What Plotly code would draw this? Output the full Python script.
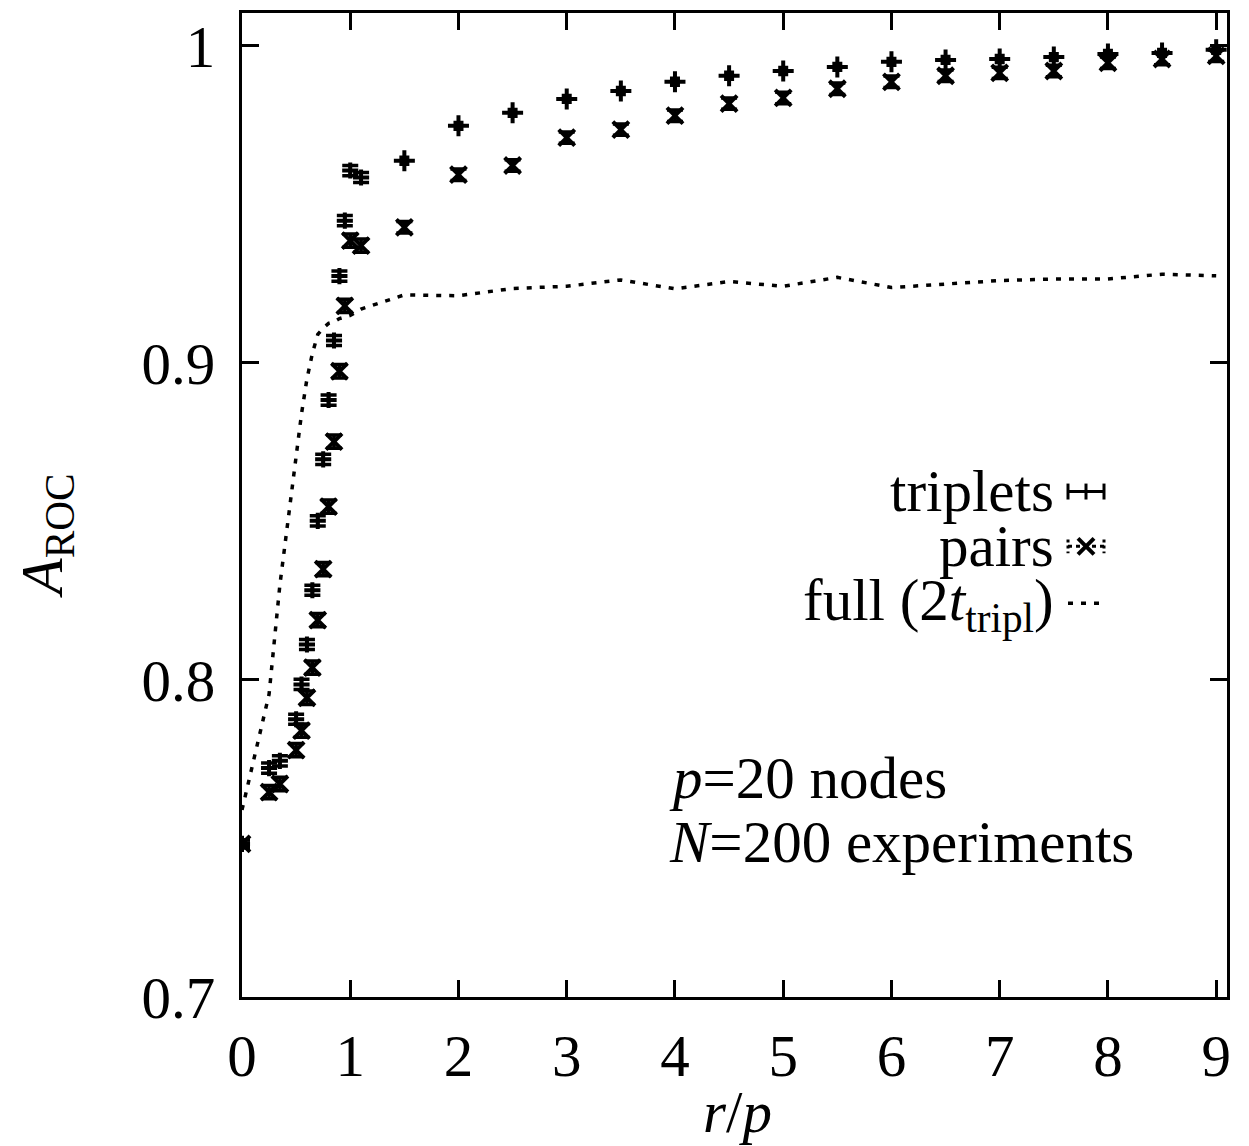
import plotly.graph_objects as go

# ---------------- data ----------------
r_over_p = [0, 0.25, 0.35, 0.5, 0.55, 0.6, 0.65, 0.7, 0.75, 0.8, 0.85, 0.9, 0.95, 1.0, 1.1,
            1.5, 2, 2.5, 3, 3.5, 4, 4.5, 5, 5.5, 6, 6.5, 7, 7.5, 8, 8.5, 9]

triplets = [0.7483, 0.7722, 0.7745, 0.7876, 0.7986, 0.8112, 0.8283, 0.8502, 0.8696, 0.8883,
            0.9071, 0.9274, 0.9449, 0.9607, 0.9585,
            0.9638, 0.9748, 0.9789, 0.9833, 0.9858, 0.9887, 0.9906, 0.9921, 0.9934, 0.9950,
            0.9956, 0.9959, 0.9965, 0.9975, 0.9978, 0.9988]
triplets_err = [0.0012, 0.0016, 0.0016, 0.0016, 0.0016, 0.0016, 0.0016, 0.0016, 0.0016, 0.0016,
                0.0016, 0.0016, 0.0016, 0.0016, 0.0016,
                0.0010, 0.0010, 0.0010, 0.0010, 0.0010, 0.0010, 0.0010, 0.0010, 0.0010, 0.0010,
                0.0010, 0.0010, 0.0010, 0.0010, 0.0010, 0.0010]

pairs = [0.7483, 0.7646, 0.7672, 0.7779, 0.7840, 0.7944, 0.8039, 0.8189, 0.8350, 0.8547,
         0.8752, 0.8974, 0.9180, 0.9386, 0.9370,
         0.9428, 0.9594, 0.9623, 0.9711, 0.9736, 0.9780, 0.9818, 0.9836, 0.9865, 0.9887,
         0.9906, 0.9915, 0.9921, 0.9947, 0.9959, 0.9969]
pairs_err = [0.0012, 0.0021, 0.0021, 0.0021, 0.0021, 0.0021, 0.0021, 0.0021, 0.0021, 0.0021,
             0.0021, 0.0021, 0.0021, 0.0021, 0.0021,
             0.0018, 0.0018, 0.0018, 0.0018, 0.0018, 0.0018, 0.0018, 0.0018, 0.0018, 0.0018,
             0.0018, 0.0018, 0.0018, 0.0018, 0.0018, 0.0018]

full = [0.7590, 0.7955, 0.8300, 0.8700, 0.8840, 0.8950, 0.9030, 0.9090, 0.9110, 0.9125,
        0.9130, 0.9140, 0.9145, 0.9150, 0.9170,
        0.9215, 0.9212, 0.9235, 0.9242, 0.9262, 0.9234, 0.9257, 0.9242, 0.9270, 0.9238,
        0.9250, 0.9260, 0.9265, 0.9265, 0.9280, 0.9275]

x_ticks = [0, 1, 2, 3, 4, 5, 6, 7, 8, 9]
y_ticks = [0.7, 0.8, 0.9, 1.0]
y_tick_text = ["0.7", "0.8", "0.9", "1"]

# ---------------- layout geometry ----------------
W, H = 1249, 1146
L, R, T, B = 242, 1227, 10, 997   # plot frame in pixels
FONT = "Liberation Serif"
FS = 59
SPLIT = 15  # index where the sparse (r/p >= 1.5) part of the data begins


def px(xp):
    return (xp - L) / (R - L)


def py(yp):
    return (B - yp) / (B - T)


fig = go.Figure()

fig.add_trace(go.Scatter(
    x=r_over_p, y=full, mode="lines", name="full",
    line=dict(color="black", width=3.5, dash="5px,8px"),
    showlegend=False,
))

# pairs
fig.add_trace(go.Scatter(
    x=r_over_p, y=pairs, mode="markers", name="pairs",
    marker=dict(symbol="x-thin", size=16, color="black", line=dict(color="black", width=4)),
    error_y=dict(type="data", array=pairs_err, visible=True, color="black", thickness=3.5, width=8),
    showlegend=False,
))

# triplets: dense part and sparse part (different marker look in the reference)
fig.add_trace(go.Scatter(
    x=r_over_p[:SPLIT], y=triplets[:SPLIT], mode="markers", name="triplets",
    marker=dict(symbol="cross-thin", size=11.5, color="black", line=dict(color="black", width=4)),
    error_y=dict(type="data", array=triplets_err[:SPLIT], visible=True, color="black",
                 thickness=3.5, width=8),
    showlegend=False,
))
fig.add_trace(go.Scatter(
    x=r_over_p[SPLIT:], y=triplets[SPLIT:], mode="markers", name="triplets",
    marker=dict(symbol="cross-thin", size=15, color="black", line=dict(color="black", width=4)),
    error_y=dict(type="data", array=triplets_err[SPLIT:], visible=True, color="black",
                 thickness=4, width=5),
    showlegend=False,
))

axis_common = dict(
    showline=True, linecolor="black", linewidth=3, mirror="ticks",
    ticks="inside", ticklen=17, tickwidth=2.5, tickcolor="black",
    showgrid=False, zeroline=False,
    tickfont=dict(family=FONT, size=FS, color="black"),
)

fig.update_layout(
    width=W, height=H,
    margin=dict(l=L, r=W - R, t=T, b=H - B, pad=0),
    paper_bgcolor="white", plot_bgcolor="white",
    font=dict(family=FONT, size=FS, color="black"),
    xaxis=dict(range=[0, 9.1], tickvals=x_ticks, ticklabelstandoff=5, **axis_common),
    yaxis=dict(range=[0.7, 1.0104], tickvals=y_ticks, ticktext=y_tick_text,
               ticklabelstandoff=12, **axis_common),
)

annotations = [
    # axis titles
    dict(x=px(46), y=py(535), text="<i>A</i><sub>ROC</sub>", textangle=-90,
         xanchor="center", yanchor="middle"),
    dict(x=px(737), y=py(1112), text="<i>r</i>/<i>p</i>", xanchor="center", yanchor="middle"),
    # legend texts
    dict(x=px(1056), y=py(489), text="triplets", xanchor="right", yanchor="middle"),
    dict(x=px(1056), y=py(545), text="pairs", xanchor="right", yanchor="middle"),
    dict(x=px(1056), y=py(603), text="full (2<i>t</i><sub>tripl</sub>)", xanchor="right", yanchor="middle"),
    # info text
    dict(x=px(667), y=py(777), text="<i>p</i>=20 nodes", xanchor="left", yanchor="middle"),
    dict(x=px(667), y=py(842), text="<i>N</i>=200 experiments", xanchor="left", yanchor="middle"),
]
for a in annotations:
    a.update(xref="paper", yref="paper", showarrow=False,
             font=dict(family=FONT, size=FS, color="black"))
fig.update_layout(annotations=annotations)

# legend samples (paper coordinates)
shapes = []
sx0, sx1 = 1068, 1104
# triplets sample: horizontal bar with caps and a centre tick
ty = 490
shapes += [
    dict(type="line", x0=px(sx0), x1=px(sx1), y0=py(ty), y1=py(ty), line=dict(width=3)),
    dict(type="line", x0=px(sx0), x1=px(sx0), y0=py(ty - 8), y1=py(ty + 8), line=dict(width=3)),
    dict(type="line", x0=px(sx1), x1=px(sx1), y0=py(ty - 8), y1=py(ty + 8), line=dict(width=3)),
    dict(type="line", x0=px(1086), x1=px(1086), y0=py(ty - 8), y1=py(ty + 8), line=dict(width=3)),
]
# pairs sample: dashed bar with caps and an x
pyy = 545
shapes += [
    dict(type="line", x0=px(sx0), x1=px(sx1), y0=py(pyy), y1=py(pyy), line=dict(width=3, dash="4px,4px")),
    dict(type="line", x0=px(sx0), x1=px(sx0), y0=py(pyy - 7), y1=py(pyy + 7), line=dict(width=3, dash="3px,3px")),
    dict(type="line", x0=px(sx1), x1=px(sx1), y0=py(pyy - 7), y1=py(pyy + 7), line=dict(width=3, dash="3px,3px")),
    dict(type="line", x0=px(1078), x1=px(1094), y0=py(pyy - 8), y1=py(pyy + 8), line=dict(width=4)),
    dict(type="line", x0=px(1078), x1=px(1094), y0=py(pyy + 8), y1=py(pyy - 8), line=dict(width=4)),
]
# full sample: dashed line
fy = 602
shapes += [
    dict(type="line", x0=px(sx0), x1=px(sx1), y0=py(fy), y1=py(fy), line=dict(width=3.5, dash="5px,8px")),
]
for s in shapes:
    s.update(xref="paper", yref="paper")
    s["line"]["color"] = "black"
fig.update_layout(shapes=shapes)

fig.write_html("out.html")
